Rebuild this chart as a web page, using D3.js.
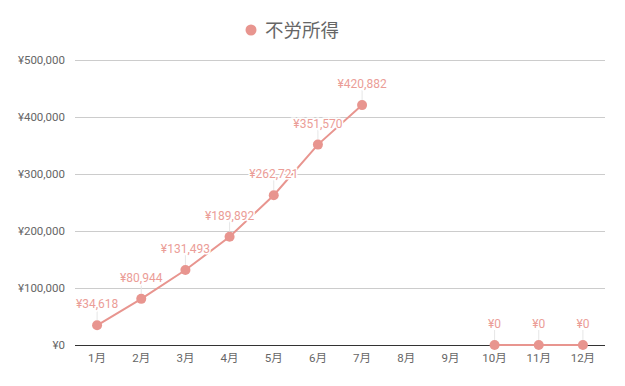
<!DOCTYPE html>
<html><head><meta charset="utf-8">
<script src="https://cdn.jsdelivr.net/npm/d3@7/dist/d3.min.js"></script>
<style>body{margin:0;background:#fff;font-family:Roboto,"Noto Sans CJK JP",sans-serif;}</style>
</head><body><svg id="c" width="625" height="386"></svg>
<script>
const months = ["1月","2月","3月","4月","5月","6月","7月","8月","9月","10月","11月","12月"];
const values = [34618,80944,131493,189892,262721,351570,420882,null,null,0,0,0];
const yTicks = [0,100000,200000,300000,400000,500000];
const seriesName = "不労所得";
const color = "#e8958f";

const svg = d3.select("#c");
const x = d3.scaleBand().domain(months).range([75,605]);
const y = d3.scaleLinear().domain([0,500000]).range([345,60]);
const fmt = v => "¥" + d3.format(",")(v);
const cx = m => x(m) + x.bandwidth()/2;

// gridlines
svg.append("g").selectAll("line").data(yTicks.filter(t=>t>0)).join("line")
  .attr("x1",75).attr("x2",605).attr("y1",d=>y(d)).attr("y2",d=>y(d))
  .attr("stroke","#cccccc").attr("stroke-width",1).attr("shape-rendering","crispEdges");

// y axis labels
const ya = svg.append("g").attr("transform","translate(75,0)")
  .call(d3.axisLeft(y).tickValues(yTicks).tickFormat(fmt).tickSize(0).tickPadding(10));
ya.select(".domain").remove();
ya.selectAll("text").attr("font-family","Roboto,sans-serif").attr("font-size",11.5).attr("fill","#666");

// x axis labels
const xa = svg.append("g").attr("transform","translate(0,345)")
  .call(d3.axisBottom(x).tickSize(0).tickPadding(9));
xa.select(".domain").remove();
xa.selectAll("text").attr("font-family","Roboto,'Noto Sans CJK JP',sans-serif").attr("font-size",11.5).attr("fill","#666");

// baseline
svg.append("line").attr("x1",75).attr("x2",605).attr("y1",y(0)).attr("y2",y(0))
  .attr("stroke","#333").attr("stroke-width",1).attr("shape-rendering","crispEdges");

const data = months.map((m,i)=>({m, v: values[i]}));
const line = d3.line().defined(d=>d.v!==null).x(d=>cx(d.m)).y(d=>y(d.v));
svg.append("path").datum(data).attr("d",line).attr("fill","none")
  .attr("stroke",color).attr("stroke-width",2);

const pts = data.filter(d=>d.v!==null);
// leader lines
svg.append("g").selectAll("line").data(pts).join("line")
  .attr("x1",d=>cx(d.m)).attr("x2",d=>cx(d.m))
  .attr("y1",d=>y(d.v)-5).attr("y2",d=>y(d.v)-15)
  .attr("stroke","#e6e6e6").attr("stroke-width",1);
svg.append("g").selectAll("circle").data(pts).join("circle")
  .attr("cx",d=>cx(d.m)).attr("cy",d=>y(d.v)).attr("r",5).attr("fill",color);
svg.append("g").selectAll("text").data(pts).join("text")
  .attr("x",d=>cx(d.m)).attr("y",d=>y(d.v)-17)
  .attr("text-anchor","middle").attr("font-size",12).attr("font-family","Roboto,sans-serif")
  .attr("fill","#eb9d97").attr("stroke","#fff").attr("stroke-width",3).attr("paint-order","stroke")
  .text(d=>fmt(d.v));

// legend
svg.append("circle").attr("cx",251).attr("cy",30).attr("r",5.5).attr("fill",color);
svg.append("text").attr("x",265).attr("y",37).attr("font-size",18.5)
  .attr("font-family","'Noto Sans CJK JP',sans-serif").attr("fill","#666").text(seriesName);
</script></body></html>
